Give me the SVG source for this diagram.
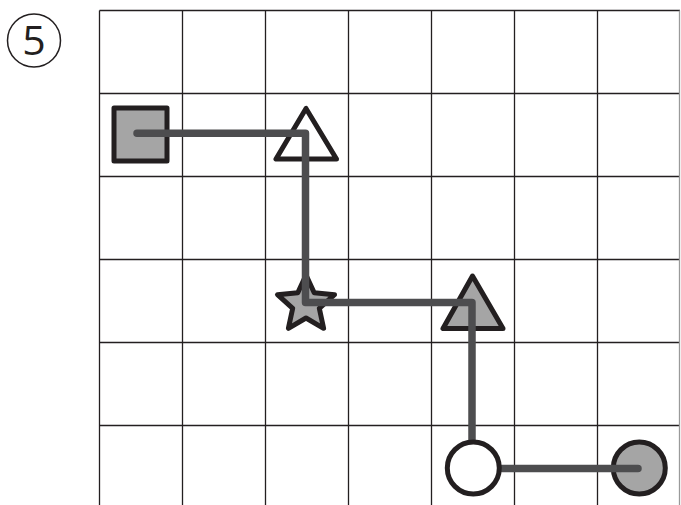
<svg xmlns="http://www.w3.org/2000/svg" width="681" height="505" viewBox="0 0 681 505">
<style>
.grid{stroke:#231f20;stroke-width:1.3;fill:none}
.shape{stroke:#231f20;stroke-width:5;stroke-linejoin:round}
.gray{fill:#a5a5a5}
.white{fill:#ffffff}
.conn{stroke:#4d4d4f;stroke-width:7.5;fill:none;stroke-linecap:round;stroke-linejoin:round}
.lbl{font-family:"Open Sans","Liberation Sans",sans-serif;font-weight:400;font-size:41px;fill:#231f20}
</style>
<rect width="681" height="505" fill="#ffffff"/>
<g id="label">
<circle cx="34" cy="40.5" r="26.5" fill="none" stroke="#231f20" stroke-width="1.5"/>
<text class="lbl" x="34" y="55" text-anchor="middle">5</text>
</g>
<g id="grid" class="grid">
<path d="M99.5 10.5V505M182.5 10.5V505M265.5 10.5V505M348.5 10.5V505M431.5 10.5V505M514.5 10.5V505M597.5 10.5V505"/>
<path d="M99.5 10.5H680M99.5 93.5H680M99.5 176.5H680M99.5 259.5H680M99.5 342.5H680M99.5 425.5H680"/>
<path d="M679.5 10.5V505" stroke="#9a9a9a"/>
</g>
<g id="node-square"><rect class="shape gray" x="114" y="108" width="53" height="53"/></g>
<g id="node-triangle-white"><polygon class="shape white" points="306,108.5 276,159 336.5,159"/></g>
<g id="node-star"><polygon class="shape gray" points="306,275 314.2,292.7 334.5,294.7 319.3,308.3 323.6,328.3 306,318 288.4,328.3 292.7,308.3 277.5,294.7 297.8,292.7"/></g>
<g id="node-triangle-gray"><polygon class="shape gray" points="472.5,276 443,328.5 503,328.5"/></g>
<g id="node-circle-gray"><circle class="shape gray" cx="639.3" cy="468" r="26"/></g>
<g id="connectors">
<path class="conn" d="M137 133.3H305.5V302.5H472V468.5H638"/>
</g>
<g id="node-circle-white"><circle class="shape white" cx="473.3" cy="468" r="26"/></g>
</svg>
